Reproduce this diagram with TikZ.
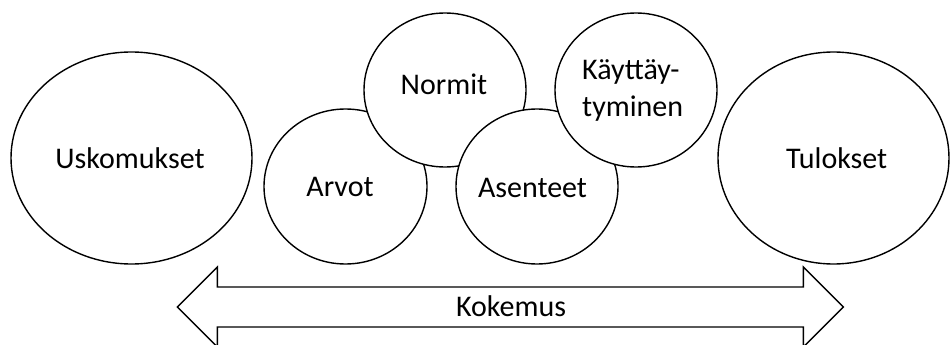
\documentclass[tikz,border=0pt]{standalone}
\usepackage{fontspec}
\setmainfont{Carlito}
\usetikzlibrary{shapes.geometric}
\tikzset{
  blob/.style={draw=black, fill=white, line width=1.4pt, ellipse, inner sep=0pt, outer sep=0pt},
  lbl/.style={anchor=base, inner sep=0pt, font=\fontsize{30}{37}\selectfont},
  lblw/.style={anchor=base west, inner sep=0pt, font=\fontsize{30}{37}\selectfont},
  blockarrow/.style={draw=black, fill=white, line width=1.4pt, line join=miter}
}
\begin{document}
\begin{tikzpicture}[x=1pt,y=-1pt]
\useasboundingbox (0,0) rectangle (951,345);
% ellipses / circles (drawing order gives the overlaps)
\node[blob, minimum width=241pt, minimum height=212pt] (usk) at (131.5,158) {};
\node[blob, minimum width=231pt, minimum height=212pt] (tul) at (833.5,158) {};
\node[blob, minimum width=163pt, minimum height=155pt] (arv) at (345.5,186.5) {};
\node[blob, minimum width=162pt, minimum height=154pt] (nor) at (445,90) {};
\node[blob, minimum width=162pt, minimum height=155pt] (ase) at (537,186.5) {};
\node[blob, minimum width=162pt, minimum height=154pt] (kay) at (636,90) {};
% texts
\node[lbl] (uskt) at (130,168) {Uskomukset};
\node[lbl] (tult) at (836.7,168) {Tulokset};
\node[lbl] (arvt) at (340,196) {Arvot};
\node[lbl] (nort) at (444,95) {Normit};
\node[lbl] (aset) at (532.5,197) {Asenteet};
\node[lblw] (kay1) at (582,80) {Käyttäy-};
\node[lblw] (kay2) at (582,117) {tyminen};
% double block arrow
\coordinate (tipL) at (177.3,307);
\coordinate (tipR) at (843.3,307);
\draw[blockarrow] (tipL) -- (217.3,267) -- (217.3,287) -- (803.3,287) -- (803.3,267)
  -- (tipR) -- (803.3,347) -- (803.3,327) -- (217.3,327) -- (217.3,347) -- cycle;
\node[lbl] (kok) at (511,316.7) {Kokemus};
\end{tikzpicture}
\end{document}
